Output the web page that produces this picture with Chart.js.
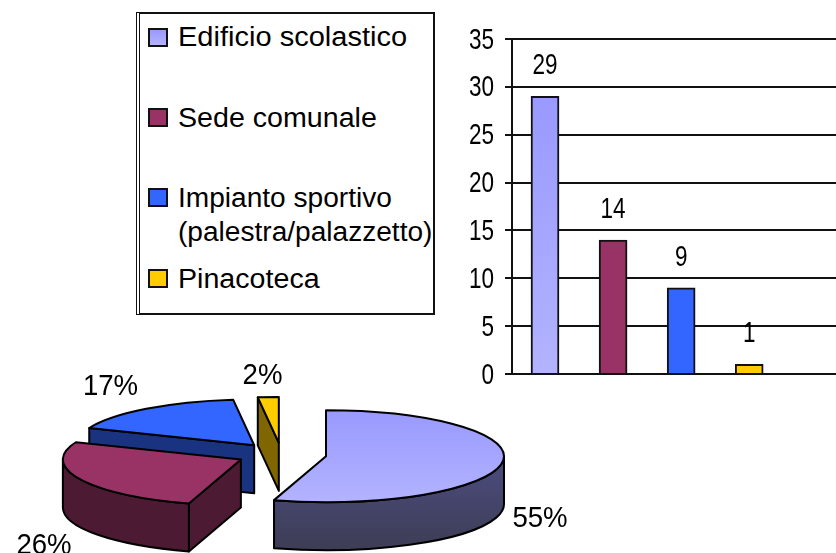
<!DOCTYPE html>
<html lang="it">
<head>
<meta charset="utf-8">
<title>Edifici</title>
<script src="https://cdn.jsdelivr.net/npm/chart.js@4"></script>
<style>
html,body{margin:0;padding:0;background:#fff;width:836px;height:553px;overflow:hidden}
canvas{position:absolute}
#pieBox{position:absolute;left:0;top:0;width:836px;height:553px}
#barBox{position:absolute;left:450px;top:0;width:386px;height:400px}
#legend{position:absolute;left:136px;top:12px;width:293px;height:299px;border:2px solid #111;border-left:4px double #111;background:#fff;overflow:hidden;font-family:"Liberation Sans",Arial,sans-serif;font-size:27px;line-height:34px;color:#000}
.sw{position:absolute;left:8px;width:16px;height:15px;border:2px solid #111}
.tx{position:absolute;left:38px;white-space:nowrap;transform-origin:left top}
</style>
</head>
<body>
<div id="pieBox"><canvas id="pie"></canvas></div>
<div id="barBox"><canvas id="bar"></canvas></div>
<div id="legend"></div>
<script>
const categories = ['Edificio scolastico', 'Sede comunale', 'Impianto sportivo\n(palestra/palazzetto)', 'Pinacoteca'];
const counts = [29, 14, 9, 1];
const percentLabels = ['55%', '26%', '17%', '2%'];
const yTicks = [0, 5, 10, 15, 20, 25, 30, 35];
const topColors = ['#9999ff', '#993366', '#3366ff', '#ffcc00'];
const sideColors = ['#4a4a78', '#4d1a33', '#1a3380', '#806600'];

// placement only
const legendRowsTop = [16, 96, 176, 257];
const legendTextTop = [8, 89, 169, 250];
const legendStretch = [1.075, 1.06, 1.04, 1.06];
const percentAnchors = [[540, 527], [44, 554], [110.5, 395], [262.5, 384]];
const PIE_CENTER_Y = 454.5, PIE_TILT = 0.258, PIE_DEPTH = 48;
const TICK_NARROW = 0.75, PERCENT_NARROW = 0.92;

function faceGradient(ctx, y0, y1, c0, c1) {
  const g = ctx.createLinearGradient(0, y0, 0, y1);
  g.addColorStop(0, c0); g.addColorStop(1, c1);
  return g;
}

function squeezedText(ctx, text, x, y, align, factor) {
  ctx.save();
  ctx.translate(x, y);
  ctx.scale(factor, 1);
  ctx.textAlign = align;
  ctx.textBaseline = 'alphabetic';
  ctx.fillText(text, 0, 0);
  ctx.restore();
}

const legendEl = document.getElementById('legend');
categories.forEach((name, i) => {
  const sw = document.createElement('div');
  sw.className = 'sw';
  sw.style.top = legendRowsTop[i] - 2 + 'px';
  sw.style.background = i === 0 ? 'linear-gradient(#9999ff,#b3b3ff)' : topColors[i];
  legendEl.appendChild(sw);
  const tx = document.createElement('div');
  tx.className = 'tx';
  tx.style.top = legendTextTop[i] - 2 + 'px';
  tx.style.transform = 'scaleX(' + legendStretch[i] + ')';
  tx.innerHTML = name.split('\n').join('<br>');
  legendEl.appendChild(tx);
});

const pie3d = {
  id: 'pie3d',
  beforeDatasetDraw() { return false; },
  afterDatasetsDraw(chart) {
    const ctx = chart.ctx;
    const arcs = chart.getDatasetMeta(0).data;
    const k = PIE_TILT, d = PIE_DEPTH;
    const order = [2, 3, 1, 0];
    ctx.save();
    ctx.lineJoin = 'round';
    ctx.strokeStyle = '#000';
    ctx.lineWidth = 2;
    order.forEach(i => {
      const el = arcs[i];
      const a0 = el.startAngle, a1 = el.endAngle, R = el.outerRadius;
      const mid = (a0 + a1) / 2, off = el.options.offset;
      const cx = el.x + Math.cos(mid) * off;
      const cy = PIE_CENTER_Y + Math.sin(mid) * off * k;
      const pt = a => [cx + R * Math.cos(a), cy + k * R * Math.sin(a)];
      const side = sideColors[i];
      const quad = a => {
        const p = pt(a);
        ctx.beginPath();
        ctx.moveTo(cx, cy); ctx.lineTo(p[0], p[1]);
        ctx.lineTo(p[0], p[1] + d); ctx.lineTo(cx, cy + d);
        ctx.closePath();
        ctx.fillStyle = side;
        ctx.fill(); ctx.stroke();
      };
      // cut faces that look towards the viewer
      if (Math.sin(a0 - Math.PI / 2) > 0.01) quad(a0);
      if (Math.sin(a1 + Math.PI / 2) > 0.01) quad(a1);
      // outer wall
      const w0 = Math.max(a0, 0), w1 = Math.min(a1, Math.PI);
      if (w1 > w0) {
        const p1 = pt(w1);
        ctx.beginPath();
        ctx.ellipse(cx, cy, R, k * R, 0, w0, w1);
        ctx.lineTo(p1[0], p1[1] + d);
        ctx.ellipse(cx, cy + d, R, k * R, 0, w1, w0, true);
        ctx.closePath();
        ctx.fillStyle = i === 0 ? faceGradient(ctx, cy, cy + k * R + d, '#4c4c80', '#3d3d55') : side;
        ctx.fill(); ctx.stroke();
      }
      // top face
      ctx.beginPath();
      ctx.moveTo(cx, cy);
      ctx.ellipse(cx, cy, R, k * R, 0, a0, a1);
      ctx.closePath();
      ctx.fillStyle = i === 0 ? faceGradient(ctx, cy - k * R, cy + k * R, '#9999ff', '#b3b3ff') : topColors[i];
      ctx.fill(); ctx.stroke();
    });
    ctx.fillStyle = '#000';
    ctx.font = '30px "Liberation Sans", Arial, sans-serif';
    percentLabels.forEach((t, i) => squeezedText(ctx, t, percentAnchors[i][0], percentAnchors[i][1], 'center', PERCENT_NARROW));
    ctx.restore();
  }
};

new Chart(document.getElementById('pie'), {
  type: 'pie',
  plugins: [pie3d],
  data: {
    labels: categories,
    datasets: [{ data: counts, backgroundColor: topColors, borderWidth: 0, offset: 45 }]
  },
  options: {
    responsive: true, maintainAspectRatio: false, animation: false,
    radius: 178,
    layout: { padding: { left: 58, right: 331, top: 0, bottom: 0 } },
    plugins: { legend: { display: false }, tooltip: { enabled: false } }
  }
});

const barText = {
  id: 'barText',
  afterDatasetsDraw(chart) {
    const ctx = chart.ctx, y = chart.scales.y;
    ctx.save();
    ctx.fillStyle = '#000';
    ctx.font = '30px "Liberation Sans", Arial, sans-serif';
    chart.getDatasetMeta(0).data.forEach((el, i) => squeezedText(ctx, String(counts[i]), el.x, el.y - 22, 'center', TICK_NARROW));
    y.ticks.forEach(t => squeezedText(ctx, String(t.value), y.right - 18, y.getPixelForValue(t.value) + 9.5, 'right', TICK_NARROW));
    ctx.restore();
  }
};

new Chart(document.getElementById('bar'), {
  type: 'bar',
  plugins: [barText],
  data: {
    datasets: [{
      data: counts.map((v, i) => ({ x: i, y: v })),
      barThickness: 28,
      borderColor: '#111',
      borderWidth: 2,
      backgroundColor: c => {
        if (c.dataIndex !== 0 || !c.chart.chartArea) return topColors[c.dataIndex];
        const s = c.chart.scales.y;
        return faceGradient(c.chart.ctx, s.getPixelForValue(counts[0]), s.getPixelForValue(0), '#9999ff', '#b3b3ff');
      }
    }]
  },
  options: {
    responsive: true, maintainAspectRatio: false, animation: false,
    layout: { padding: { top: 39, bottom: 26, left: 0, right: 0 } },
    plugins: { legend: { display: false }, tooltip: { enabled: false } },
    scales: {
      x: {
        type: 'linear', min: -0.485, max: 4.275, offset: false,
        ticks: { display: false },
        grid: { display: false, drawTicks: false },
        border: { color: '#111', width: 2 }
      },
      y: {
        min: 0, max: 35,
        afterFit: s => { s.width = 62; },
        afterBuildTicks: s => { s.ticks = yTicks.map(v => ({ value: v })); },
        ticks: { display: false },
        grid: { color: '#111', lineWidth: 2, tickLength: 7 },
        border: { color: '#111', width: 2 }
      }
    }
  }
});
</script>
</body>
</html>
